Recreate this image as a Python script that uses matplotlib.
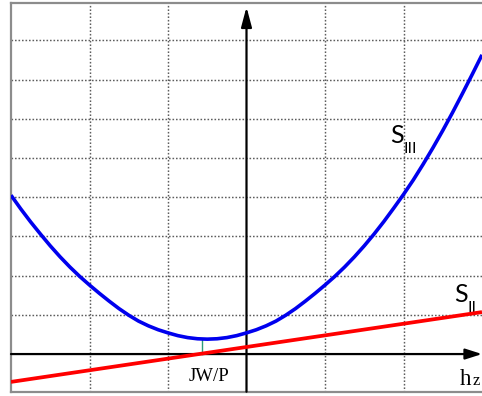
import matplotlib
matplotlib.use("Agg")
import matplotlib.pyplot as plt

# ---- data ----
s3_x = [-3.0, -2.875, -2.75, -2.625, -2.5, -2.375, -2.25, -2.125, -2.0, -1.875,
        -1.75, -1.625, -1.5, -1.375, -1.25, -1.125, -1.0, -0.875, -0.75, -0.625,
        -0.5, -0.375, -0.25, -0.125, 0.0, 0.125, 0.25, 0.375, 0.5, 0.625,
        0.75, 0.875, 1.0, 1.125, 1.25, 1.375, 1.5, 1.625, 1.75, 1.875,
        2.0, 2.125, 2.25, 2.375, 2.5, 2.625, 2.75, 2.875, 3.0]
s3_y = [4.05, 3.70, 3.37, 3.06, 2.76, 2.48, 2.22, 1.98, 1.76, 1.55,
        1.35, 1.16, 0.99, 0.84, 0.72, 0.62, 0.54, 0.47, 0.42, 0.39,
        0.38, 0.39, 0.42, 0.47, 0.54, 0.62, 0.72, 0.84, 0.99, 1.16,
        1.35, 1.55, 1.76, 1.98, 2.22, 2.48, 2.76, 3.06, 3.38, 3.72,
        4.07, 4.44, 4.84, 5.26, 5.70, 6.16, 6.64, 7.13, 7.63]
s2_x = [-3.0, 3.0]
s2_y = [-0.71, 1.07]
jwp_x = -0.57
jwp_y = [0.01, 0.39]
grid_x = [-2, -1, 1, 2]
grid_y = [1, 2, 3, 4, 5, 6, 7, 8]

fig = plt.figure(figsize=(4.82, 3.96), dpi=100)
ax = fig.add_axes([11 / 482, 4.3 / 396, 471 / 482, 389 / 396])
ax.set_xlim(-3, 3)
ax.set_ylim(-0.96, 8.96)
ax.set_xticks([])
ax.set_yticks([])
for side in ["top", "left", "bottom"]:
    ax.spines[side].set_color("#8c8c8c")
    ax.spines[side].set_linewidth(1.6)
ax.spines["right"].set_visible(False)

gstyle = dict(color="#5e5e5e", lw=1.05, linestyle=(0, (1.1, 1.3)), zorder=1)
for gx in grid_x:
    ax.axvline(gx, **gstyle)
for gy in grid_y:
    ax.axhline(gy, **gstyle)

# axes arrows
ax.annotate("", xy=(3.0, 0), xytext=(-3.0, 0),
            arrowprops=dict(arrowstyle="-|>,head_length=1.0,head_width=0.32",
                            lw=1.6, color="black", shrinkA=0, shrinkB=0), zorder=3)
ax.annotate("", xy=(0, 8.85), xytext=(0, -0.96),
            arrowprops=dict(arrowstyle="-|>,head_length=1.2,head_width=0.32",
                            lw=1.6, color="black", shrinkA=0, shrinkB=0), zorder=3)

ax.plot(s3_x, s3_y, color="#0000ee", lw=2.6, zorder=4, solid_capstyle="butt")
ax.plot(s2_x, s2_y, color="#ff0000", lw=2.7, zorder=4, solid_capstyle="butt")
ax.plot([jwp_x, jwp_x], jwp_y, color="#2a9d7a", lw=1.0, zorder=3)

serif = ["Liberation Serif", "DejaVu Serif"]
sans = ["Lato", "DejaVu Sans"]
ax.text(-0.48, -0.56, "JW/P", family=serif, fontsize=13.5, ha="center", va="center")
ax.text(2.72, -0.79, "h", family=serif, fontsize=16.5, ha="left", va="baseline")
ax.text(2.885, -0.79, "z", family=serif, fontsize=12, ha="left", va="baseline")

ax.text(1.83, 5.38, "S", family=sans, fontsize=18, ha="left", va="baseline")
ax.text(2.0, 5.12, "III", family=sans, fontsize=11.5, ha="left", va="baseline")
ax.text(2.65, 1.33, "S", family=sans, fontsize=18, ha="left", va="baseline")
ax.text(2.82, 1.07, "II", family=sans, fontsize=11.5, ha="left", va="baseline")

fig.savefig("out.png", dpi=100)
